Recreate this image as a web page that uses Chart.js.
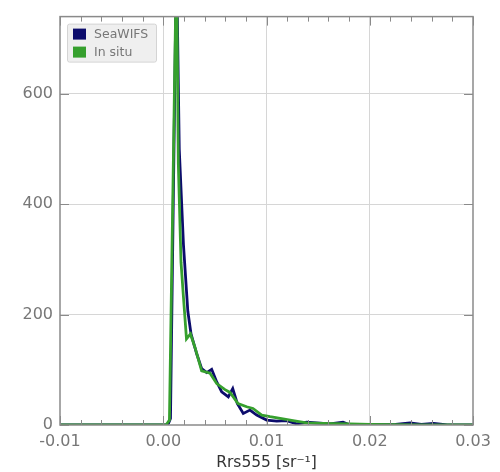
<!DOCTYPE html>
<html><head><meta charset="utf-8">
<script src="https://cdn.jsdelivr.net/npm/chart.js@4"></script>
<style>html,body{margin:0;padding:0;background:#fff}#wrap{width:500px;height:472px}</style>
</head><body><div id="wrap"><canvas id="c" width="500" height="472"></canvas></div>
<script>
const seriesNames = ['SeaWIFS', 'In situ'];
const seawifsX = [-0.01, 0.00027, 0.00051, 0.00070, 0.00128, 0.00155, 0.00196, 0.00238, 0.00269, 0.00324, 0.00372, 0.00421, 0.00469, 0.00518, 0.00566, 0.00630, 0.00673, 0.00717, 0.00775, 0.00840, 0.00905, 0.01002, 0.01099, 0.01196, 0.01292, 0.01389, 0.01615, 0.01741, 0.01809, 0.0225, 0.0239, 0.0250, 0.0262, 0.0275, 0.03];
const seawifsY = [0, 0, 3, 12, 850, 500, 326, 206, 165, 129, 102, 95, 101, 78, 60, 51, 66, 39, 21, 27, 18, 9, 7, 8, 2, 5, 2, 5, 0, 1, 4, 1, 3, 0, 0];
const insituX = [-0.01, 0.00027, 0.00060, 0.00128, 0.00146, 0.00172, 0.00194, 0.00225, 0.00264, 0.00308, 0.00372, 0.00453, 0.00518, 0.00598, 0.00647, 0.00724, 0.00808, 0.00869, 0.00954, 0.01034, 0.01160, 0.01257, 0.01389, 0.01547, 0.01809, 0.0200, 0.0250, 0.03];
const insituY = [0, 0, 9, 850, 474, 295, 236, 156, 165, 140, 98, 94, 75, 64, 59, 39, 33, 30, 18, 15, 11, 8, 4, 3, 2, 1, 0, 0];
const xTickValues = [-0.01, 0.00, 0.01, 0.02, 0.03];
const yTickValues = [0, 200, 400, 600];
const xMinorStep = 0.002;

const BLUE = '#0c0c6c', GREEN = '#36a02e', AXIS = '#8a8a8a', LABEL = '#777777';

const decor = {
  id: 'decor',
  afterDraw(chart) {
    const {ctx, chartArea: a, scales: {x, y}} = chart;
    ctx.save();
    ctx.strokeStyle = AXIS; ctx.lineWidth = 1;
    const n = Math.round((x.max - x.min) / xMinorStep);
    for (let i = 0; i <= n; i++) {
      const v = x.min + i * xMinorStep;
      const px = Math.round(x.getPixelForValue(v)) + 0.5;
      const major = i % 5 === 0;
      const len = major ? 9 : 5;
      ctx.beginPath();
      ctx.moveTo(px, a.bottom); ctx.lineTo(px, a.bottom - len);
      ctx.moveTo(px, a.top); ctx.lineTo(px, a.top + len);
      ctx.stroke();
    }
    yTickValues.forEach(v => {
      const py = Math.round(y.getPixelForValue(v)) + 0.5;
      ctx.beginPath();
      ctx.moveTo(a.left, py); ctx.lineTo(a.left + 9, py);
      ctx.moveTo(a.right, py); ctx.lineTo(a.right - 9, py);
      ctx.stroke();
    });
    ctx.lineWidth = 1.5;
    ctx.strokeRect(a.left, a.top, a.right - a.left, a.bottom - a.top);
    const lx = a.left + 7, ly = a.top + 7, lw = 89, lh = 38;
    ctx.fillStyle = 'rgba(238,238,238,0.95)';
    ctx.strokeStyle = '#d4d4d4'; ctx.lineWidth = 1;
    ctx.beginPath();
    if (ctx.roundRect) ctx.roundRect(lx + 0.5, ly + 0.5, lw, lh, 2); else ctx.rect(lx + 0.5, ly + 0.5, lw, lh);
    ctx.fill(); ctx.stroke();
    const colors = [BLUE, GREEN];
    ctx.font = '12.5px "DejaVu Sans"';
    ctx.textBaseline = 'middle';
    seriesNames.forEach((name, i) => {
      const sy = ly + 5 + i * 18;
      ctx.fillStyle = colors[i];
      ctx.fillRect(lx + 6, sy, 13, 11);
      ctx.fillStyle = LABEL;
      ctx.fillText(name, lx + 27, sy + 6);
    });
    ctx.restore();
  }
};

new Chart(document.getElementById('c'), {
  type: 'line',
  data: {
    datasets: [
      { label: seriesNames[0], data: seawifsX.map((v, i) => ({x: v, y: seawifsY[i]})), borderColor: BLUE, backgroundColor: BLUE, borderWidth: 2.8, pointRadius: 0, tension: 0, order: 2 },
      { label: seriesNames[1], data: insituX.map((v, i) => ({x: v, y: insituY[i]})), borderColor: GREEN, backgroundColor: GREEN, borderWidth: 2.8, pointRadius: 0, tension: 0, order: 1 }
    ]
  },
  options: {
    responsive: false,
    devicePixelRatio: 1,
    animation: false,
    layout: { padding: { left: 0, right: 27, top: 11, bottom: 0 } },
    plugins: { legend: { display: false }, tooltip: { enabled: false } },
    scales: {
      x: {
        type: 'linear', min: -0.01, max: 0.03,
        afterBuildTicks: s => { s.ticks = xTickValues.map(v => ({value: v})); },
        afterFit: s => { s.height = 47; },
        ticks: { callback: v => v.toFixed(2), color: LABEL, font: { size: 16, family: 'DejaVu Sans' }, padding: 7, maxRotation: 0, autoSkip: false },
        grid: { color: c => (c.tick && (Math.abs(c.tick.value + 0.01) < 1e-9 || Math.abs(c.tick.value - 0.03) < 1e-9)) ? 'rgba(0,0,0,0)' : '#d6d6d6', drawTicks: false, lineWidth: 1 },
        border: { display: false },
        title: { display: true, text: 'Rrs555 [sr⁻¹]', color: '#333', font: { size: 15.5, family: 'DejaVu Sans' }, padding: { top: 0, bottom: 0 } }
      },
      y: {
        min: 0, max: 740,
        afterBuildTicks: s => { s.ticks = yTickValues.map(v => ({value: v})); },
        afterFit: s => { s.width = 60; },
        ticks: { color: LABEL, font: { size: 16, family: 'DejaVu Sans' }, padding: 7 },
        grid: { color: c => (c.tick && c.tick.value === 0) ? 'rgba(0,0,0,0)' : '#d6d6d6', drawTicks: false, lineWidth: 1 },
        border: { display: false }
      }
    }
  },
  plugins: [decor]
});
</script></body></html>
